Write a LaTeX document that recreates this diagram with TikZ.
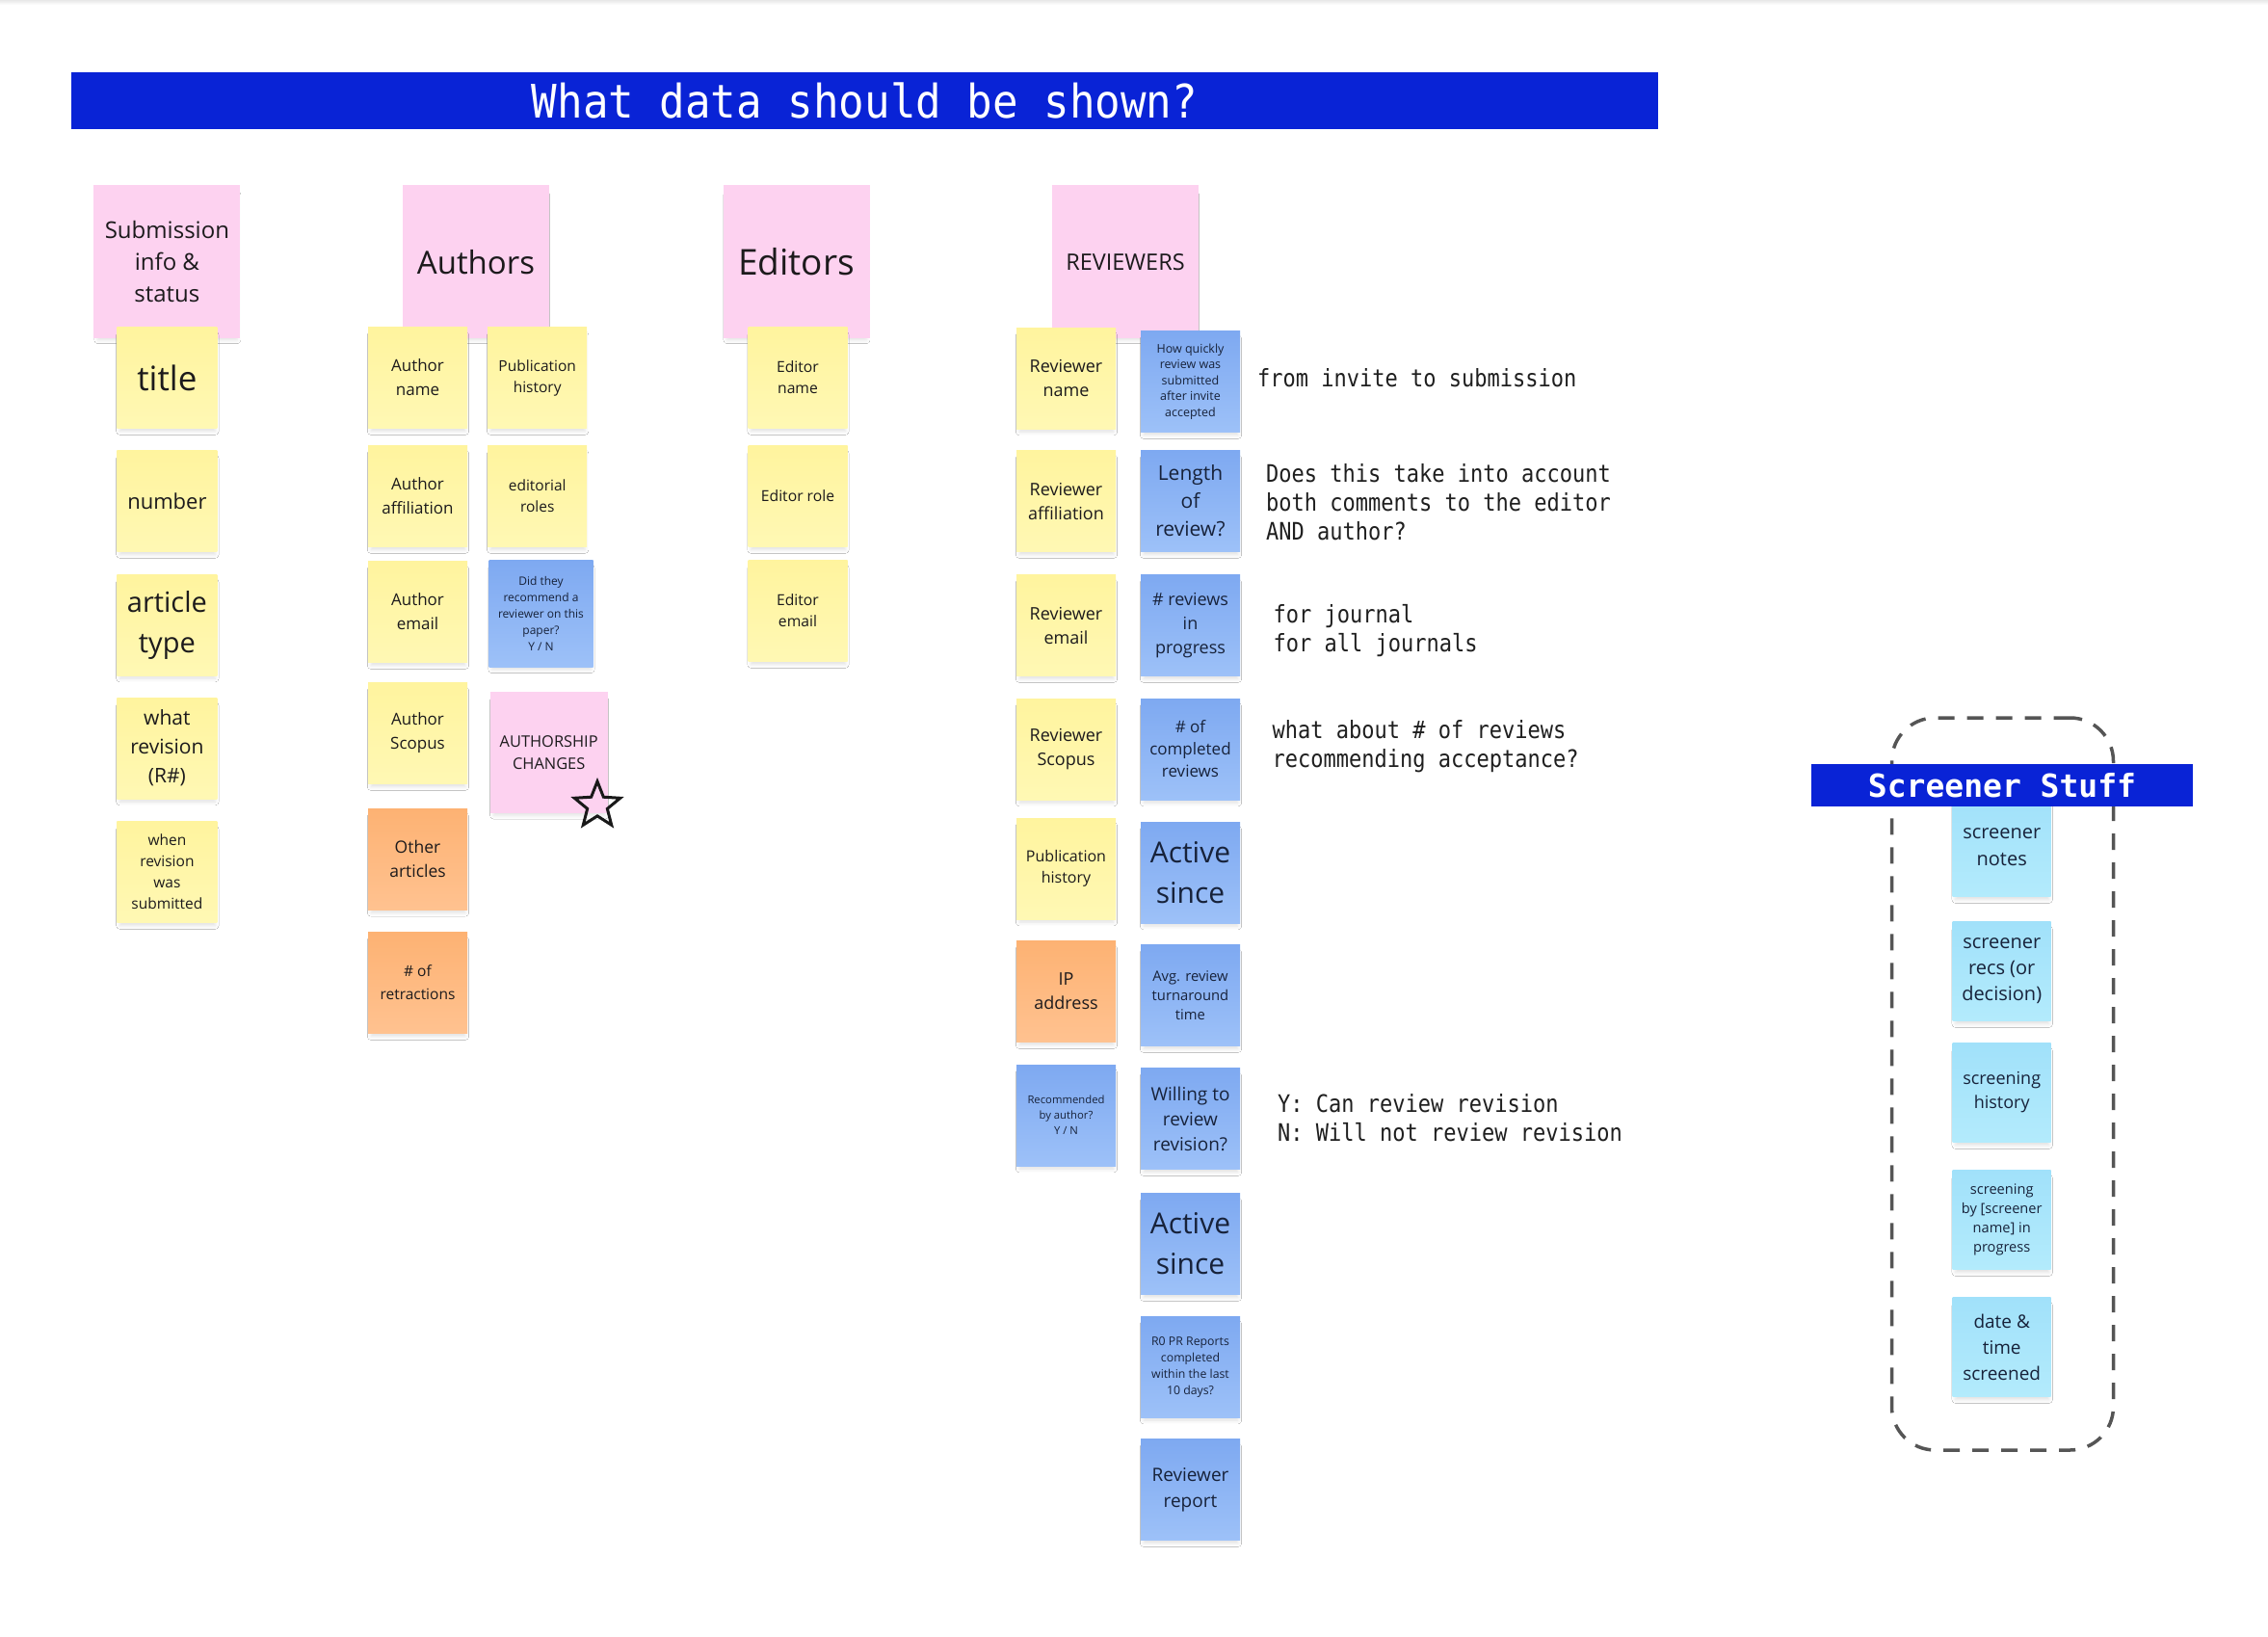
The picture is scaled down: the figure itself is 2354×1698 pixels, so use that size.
\documentclass[tikz,border=0pt]{standalone}
\usepackage{fontspec}
\setmainfont{Open Sans}
\newfontfamily\monof[FakeStretch=0.88]{DejaVu Sans Mono}
\newfontfamily\bannerf[FakeStretch=0.92]{DejaVu Sans Mono}
\newfontfamily\sbannerf{DejaVu Sans Mono}
\usetikzlibrary{shapes.geometric,shadows.blur}
\newcommand{\fsz}[2]{\fontsize{#1}{#2}\selectfont}
\definecolor{bannerblue}{HTML}{0923D6}
\definecolor{pinkc}{HTML}{FDD2F0}
\definecolor{yelT}{HTML}{FFF49E}
\definecolor{yelB}{HTML}{FFF8B4}
\definecolor{oraT}{HTML}{FDB273}
\definecolor{oraB}{HTML}{FFC290}
\definecolor{bluT}{HTML}{7EA9F1}
\definecolor{bluB}{HTML}{9DC1F8}
\definecolor{cyaT}{HTML}{A1E1FA}
\definecolor{cyaB}{HTML}{B3EBFC}
\definecolor{txt}{HTML}{1C1A1C}
\definecolor{btxt}{HTML}{17223A}
\definecolor{dashgray}{HTML}{555555}
\tikzset{
  sticky/.style={rectangle, inner sep=0pt, minimum width=103pt, minimum height=105pt,
    align=center, text=txt,
    blur shadow={shadow xshift=0.5pt,shadow yshift=-6pt,shadow blur radius=4pt,shadow opacity=12,shadow scale=0.95}},
  pinkhead/.style={sticky, fill=pinkc, minimum width=152pt, minimum height=159pt},
  yel/.style={sticky, top color=yelT, bottom color=yelB},
  ora/.style={sticky, top color=oraT, bottom color=oraB},
  blu/.style={sticky, top color=bluT, bottom color=bluB, text=btxt},
  cya/.style={sticky, top color=cyaT, bottom color=cyaB, text=btxt, minimum height=103pt, minimum width=102pt},
  annot/.style={anchor=west, align=left, inner sep=0pt, text=black!88, font=\monof\fsz{25}{30}},
  bigbanner/.style={rectangle, fill=bannerblue, text=white, inner sep=0pt}
}
\begin{document}
\begin{tikzpicture}[x=1pt,y=-1pt]
\fill[white] (0,0) rectangle (2354,1698);
\useasboundingbox (0,0) rectangle (2354,1698);
\shade[top color=black!9, bottom color=white] (0,0) rectangle (2354,5);

% title banner
\node[bigbanner, minimum width=1647pt, minimum height=59pt, font=\bannerf\fsz{48}{50}] (maintitle) at (897.5,104.5) {What data should be shown?};

% ---------- Submission column
\node[pinkhead, font=\fsz{24}{33}] (sub) at (173.4,271.7) {Submission\\info \&\\status};
\node[yel, minimum width=104pt, font=\fsz{35}{40}] (title) at (173.4,392) {title};
\node[yel, minimum width=104pt, font=\fsz{22}{30}] (number) at (173.4,520) {number};
\node[yel, minimum width=104pt, font=\fsz{29}{42}] (arttype) at (173.4,648.5) {article\\type};
\node[yel, minimum width=104pt, font=\fsz{21}{30}] (whatrev) at (173.4,776.5) {what\\revision\\(R\#)};
\node[yel, minimum width=104pt, font=\fsz{15.5}{22}] (whenrev) at (173.4,905) {when\\revision\\was\\submitted};

% ---------- Authors column
\node[pinkhead, font=\fsz{33}{40}] (authors) at (494,271.7) {Authors};
\node[yel, font=\fsz{17}{25}] (aname) at (433.5,392) {Author\\name};
\node[yel, font=\fsz{17}{25}] (aaffil) at (433.5,515) {Author\\affiliation};
\node[yel, font=\fsz{17}{25}] (aemail) at (433.5,635) {Author\\email};
\node[yel, font=\fsz{17}{25}] (ascopus) at (433.5,761) {Author\\Scopus};
\node[ora, font=\fsz{17.5}{25}] (other) at (433.5,891.7) {Other\\articles};
\node[ora, font=\fsz{15.5}{24}] (retract) at (433.5,1020) {\# of\\retractions};
\node[yel, font=\fsz{15.5}{22}] (apub) at (557.7,392) {Publication\\history};
\node[yel, font=\fsz{15.5}{22}] (edroles) at (557.7,515) {editorial\\roles};
\node[blu, minimum width=108pt, minimum height=111pt, font=\fsz{12}{17}] (didthey) at (561.5,636.5) {Did they\\recommend a\\reviewer on this\\paper?\\Y / N};
\node[sticky, fill=pinkc, minimum width=121.6pt, minimum height=126pt, font=\fsz{16.4}{23}] (authorship) at (569.7,780.7) {AUTHORSHIP\\CHANGES};
\node[star, star points=5, star point ratio=2.3, draw=black!90, line width=3pt, minimum size=50pt, inner sep=0pt, line join=miter] (star) at (620,836) {};

% ---------- Editors column
\node[pinkhead, font=\fsz{37}{44}] (editors) at (826.5,271.7) {Editors};
\node[yel, font=\fsz{15.7}{22}] (ename) at (828,392) {Editor\\name};
\node[yel, font=\fsz{15.7}{22}] (erole) at (828,515) {Editor role};
\node[yel, font=\fsz{15.7}{22}] (eemail) at (828,634) {Editor\\email};

% ---------- Reviewers column
\node[pinkhead, font=\fsz{23.5}{30}] (reviewers) at (1168,271.7) {REVIEWERS};
\node[yel, font=\fsz{18}{25}] (rname) at (1106.5,392.5) {Reviewer\\name};
\node[yel, font=\fsz{18}{25}] (raffil) at (1106.5,520) {Reviewer\\affiliation};
\node[yel, font=\fsz{18}{25}] (remail) at (1106.5,649) {Reviewer\\email};
\node[yel, font=\fsz{18}{25}] (rscopus) at (1106.5,777.5) {Reviewer\\Scopus};
\node[yel, font=\fsz{16}{22}] (rpub) at (1106.5,901.5) {Publication\\history};
\node[ora, font=\fsz{18}{25}] (ip) at (1106.5,1029) {IP\\address};
\node[blu, font=\fsz{11.3}{16}] (recby) at (1106.5,1157.5) {Recommended\\by author?\\Y / N};

\node[blu, font=\fsz{12.5}{16.5}] (howquick) at (1235.5,396) {How quickly\\review was\\submitted\\after invite\\accepted};
\node[blu, font=\fsz{21}{29}] (length) at (1235.5,520) {Length\\of\\review?};
\node[blu, font=\fsz{18}{25}] (inprog) at (1235.5,649) {\# reviews\\in\\progress};
\node[blu, font=\fsz{17}{23}] (completed) at (1235.5,777.5) {\# of\\completed\\reviews};
\node[blu, font=\fsz{30}{42}] (active1) at (1235.5,905.5) {Active\\since};
\node[blu, font=\fsz{14.8}{20}] (avg) at (1235.5,1033) {Avg. review\\turnaround\\time};
\node[blu, font=\fsz{19}{26}] (willing) at (1235.5,1161) {Willing to\\review\\revision?};
\node[blu, font=\fsz{30}{42}] (active2) at (1235.5,1291) {Active\\since};
\node[blu, font=\fsz{12.3}{17}] (rzero) at (1235.5,1418.5) {R0 PR Reports\\completed\\within the last\\10 days?};
\node[blu, font=\fsz{19}{27}] (report) at (1235.5,1546) {Reviewer\\report};

% ---------- annotations
\node[annot] (nfrom) at (1305,392) {from invite to submission};
\node[annot] (ndoes) at (1314,521.5) {Does this take into account\\both comments to the editor\\AND author?};
\node[annot] (nfor) at (1321.5,655) {for journal\\for all journals};
\node[annot] (nwhat) at (1320.5,774.3) {what about \# of reviews\\recommending acceptance?};
\node[annot] (nyn) at (1326,1160.4) {Y: Can review revision\\N: Will not review revision};

% ---------- Screener group
\node[draw=dashgray, line width=3.5pt, dash pattern=on 17pt off 13pt, rounded corners=45pt,
  minimum width=230pt, minimum height=760pt, inner sep=0pt] (sgroup) at (2078.5,1125) {};
\node[cya, font=\fsz{20}{28}] (snotes) at (2077.7,879) {screener\\notes};
\node[cya, font=\fsz{20}{27}] (srecs) at (2077.7,1008) {screener\\recs (or\\decision)};
\node[cya, font=\fsz{18}{25}] (shist) at (2077.7,1134) {screening\\history};
\node[cya, font=\fsz{14.6}{20}] (sby) at (2077.7,1266) {screening\\by [screener\\name] in\\progress};
\node[cya, font=\fsz{19}{27}] (sdate) at (2077.7,1398) {date \&\\time\\screened};
\node[bigbanner, minimum width=396pt, minimum height=44pt, font=\sbannerf\bfseries\fsz{33}{36}] (sbanner) at (2078,815) {Screener Stuff};
\end{tikzpicture}
\end{document}
